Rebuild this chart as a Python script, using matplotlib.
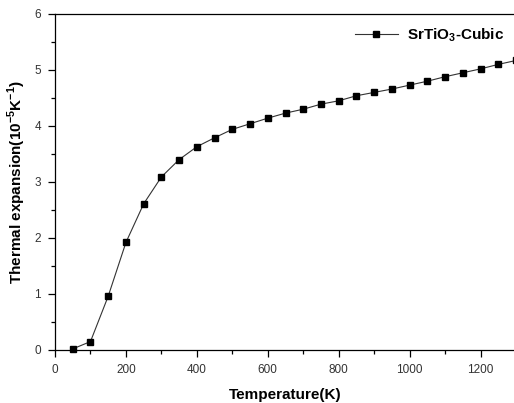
import matplotlib
matplotlib.use("Agg")
import matplotlib.pyplot as plt
from matplotlib.ticker import MultipleLocator

plt.rcParams['font.family'] = ['Liberation Sans', 'DejaVu Sans']
plt.rcParams['mathtext.fontset'] = 'custom'
plt.rcParams['mathtext.bf'] = 'Liberation Sans:bold'
plt.rcParams['mathtext.rm'] = 'Liberation Sans'

# Thermal expansion of cubic SrTiO3 vs temperature
temperature = [50, 100, 150, 200, 250, 300, 350, 400, 450, 500, 550, 600, 650,
               700, 750, 800, 850, 900, 950, 1000, 1050, 1100, 1150, 1200, 1250, 1300]
alpha = [0.02, 0.15, 0.96, 1.92, 2.61, 3.09, 3.40, 3.63, 3.79, 3.94, 4.04, 4.14, 4.23,
         4.30, 4.39, 4.45, 4.54, 4.60, 4.66, 4.73, 4.80, 4.88, 4.95, 5.02, 5.10, 5.17]

fig = plt.figure(figsize=(5.14, 4.03), dpi=100)
# axes run slightly past the right edge of the figure
ax = fig.add_axes([55 / 514, 53 / 403, 461 / 514, 336 / 403])

ax.plot(temperature, alpha, color='#333333', linewidth=0.8, marker='s',
        markersize=4.8, markerfacecolor='black', markeredgecolor='black',
        label=r'SrTiO$_{\mathbf{3}}$-Cubic', clip_on=False)

ax.set_xlim(0, 1300)
ax.set_ylim(0, 6)
ax.xaxis.set_major_locator(MultipleLocator(200))
ax.xaxis.set_minor_locator(MultipleLocator(100))
ax.yaxis.set_major_locator(MultipleLocator(1))
ax.yaxis.set_minor_locator(MultipleLocator(0.5))
ax.tick_params(which='both', direction='out', top=False, right=False,
               labelsize=8.5, labelcolor='#333333', width=0.9, pad=5)
ax.tick_params(which='major', length=5)
ax.tick_params(which='minor', length=3)
for s in ax.spines.values():
    s.set_linewidth(0.9)

ax.set_xlabel('Temperature(K)', fontsize=11, fontweight='bold', labelpad=9)
ax.set_ylabel(r'Thermal expansion(10$^{\mathbf{-5}}$K$^{\mathbf{-1}}$)',
              fontsize=11, fontweight='bold', labelpad=5)

leg = ax.legend(loc='upper right', frameon=False, handlelength=2.8,
                borderaxespad=0.4, handletextpad=0.6,
                prop={'weight': 'bold', 'size': 11})

fig.savefig('out.png', dpi=100)
